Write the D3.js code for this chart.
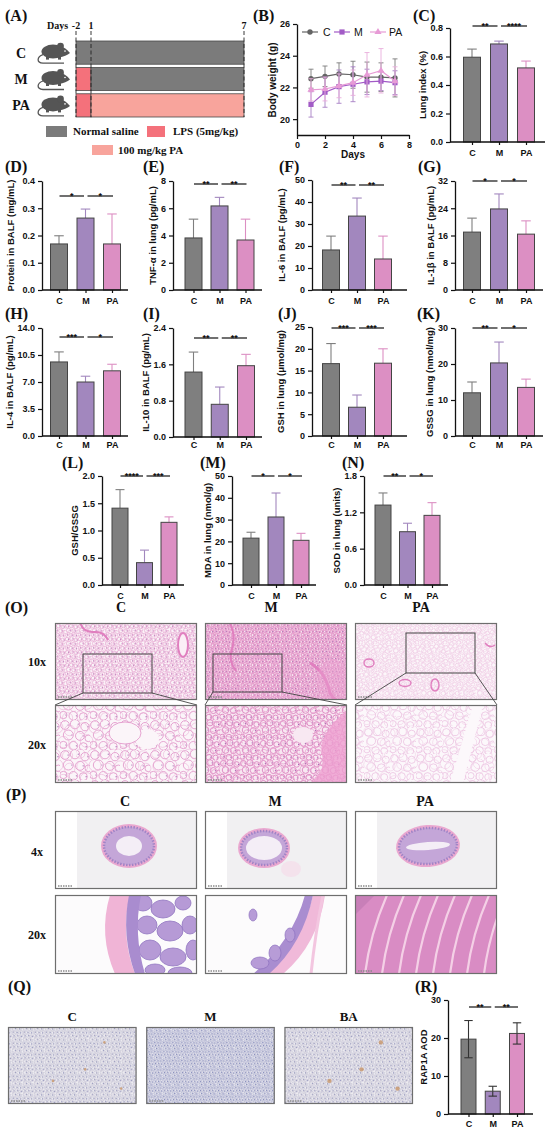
<!DOCTYPE html>
<html><head><meta charset="utf-8">
<script src="https://cdn.jsdelivr.net/npm/d3@7"></script>
<style>body{margin:0;background:#fff}svg{display:block}</style>
</head><body><svg id="fig" width="550" height="1134"></svg>
<script>
// ---------------- DATA ----------------
const groups = ["C","M","PA"];
// Panel A schedule
const schedRows = ["C","M","PA"];
const schedTicks = [-2,1,7];
const schedSegments = [
  {row:"C", from:-2, to:7, type:"saline"},
  {row:"M", from:-2, to:1, type:"lps"},
  {row:"M", from:1, to:7, type:"saline"},
  {row:"PA", from:-2, to:1, type:"lps"},
  {row:"PA", from:1, to:7, type:"pa"}
];
const schedLegend = [
  {type:"saline", label:"Normal saline"},
  {type:"lps", label:"LPS (5mg/kg)"},
  {type:"pa", label:"100 mg/kg PA"}
];
// Panel B body weight
const days = [1,2,3,4,5,6,7];
const bwC   = [22.55,22.70,22.85,22.80,22.65,22.65,22.60];
const bwCErr= [0.60,0.65,0.70,0.85,0.95,0.90,1.20];
const bwM   = [20.93,21.70,22.05,22.20,22.35,22.40,22.30];
const bwMErr= [0.80,0.95,1.05,1.10,0.80,0.60,0.75];
const bwPA  = [21.85,21.90,22.10,22.30,22.80,23.05,22.40];
const bwPAErr=[0.70,0.75,0.75,0.80,1.40,1.40,0.90];
const bwTicksX = [0,2,4,6,8];
const bwTicksY = [20,22,24,26];
// Bar panels
const lungIndex = [0.595,0.688,0.52],  lungIndexErr = [0.057,0.02,0.048];
const proteinBALF = [0.169,0.264,0.169], proteinBALFErr = [0.03,0.033,0.11];
const tnfLung = [3.82,6.17,3.67], tnfLungErr = [1.38,0.63,1.53];
const il6BALF = [18.2,33.6,14.1], il6BALFErr = [6.3,8.2,10.4];
const il1bBALF = [17.0,23.8,16.4], il1bBALFErr = [4.1,4.4,3.9];
const il4BALF = [9.6,7.0,8.45], il4BALFErr = [1.3,0.75,0.85];
const il10BALF = [1.43,0.72,1.57], il10BALFErr = [0.44,0.38,0.25];
const gshLung = [16.6,6.6,16.7], gshLungErr = [4.6,2.8,3.3];
const gssgLung = [12.0,20.3,13.5], gssgLungErr = [3.0,5.8,2.3];
const gshGssg = [1.41,0.41,1.15], gshGssgErr = [0.34,0.23,0.1];
const mdaLung = [21.5,31.2,20.5], mdaLungErr = [2.7,11.0,3.2];
const sodLung = [1.32,0.88,1.15], sodLungErr = [0.2,0.14,0.21];
const rap1a = [19.7,6.0,21.2], rap1aErr = [4.9,1.3,2.8];
const sigC = ["**","****"], sigD = ["*","*"], sigE = ["**","**"], sigF = ["**","**"], sigG = ["*","*"];
const sigH = ["***","*"], sigI = ["**","**"], sigJ = ["***","***"], sigK = ["**","*"];
const sigL = ["****","***"], sigM = ["*","*"], sigN = ["**","*"], sigR = ["**","**"];
// Histology labels
const histCols = ["C","M","PA"];
const qCols = ["C","M","BA"];

// ---------------- SETUP ----------------
const svg = d3.select("#fig");
const defs = svg.append("defs");
const serif = "'Liberation Serif','Times New Roman',serif";
const sans = "'Liberation Sans',Arial,sans-serif";
const barFill = {C:"#7f7f7f", M:"#a287be", PA:"#dc8fc3"};
const schedFill = {saline:"#7b7b7b", lps:"#f4717b", pa:"#f8a49c"};

function letter(t,x,y){
  svg.append("text").attr("x",x).attr("y",y).attr("font-family",serif)
    .attr("font-weight","bold").attr("font-size",16).attr("fill","#111").text(t);
}
function stext(t,x,y,size,anchor,font,weight){
  return svg.append("text").attr("x",x).attr("y",y).attr("font-family",font||serif)
    .attr("font-weight",weight||"bold").attr("font-size",size).attr("text-anchor",anchor||"start")
    .attr("fill","#111").text(t);
}
function styleAxis(sel){
  sel.select(".domain").attr("stroke","#111").attr("stroke-width",1.3);
  sel.selectAll(".tick line").attr("stroke","#111").attr("stroke-width",1.2);
  sel.selectAll(".tick text").attr("font-family",sans).attr("font-weight","bold")
    .attr("font-size",9).attr("fill","#111");
}

// ---------------- PANEL A ----------------
letter("(A)",5,21);
const dayX = d3.scaleLinear().domain(schedTicks).range([76,91,244]);
const rowY = d3.scaleBand().domain(schedRows).range([41,117]).paddingInner(0.12);
svg.selectAll("rect.sched").data(schedSegments).join("rect")
  .attr("x",d=>dayX(d.from)).attr("width",d=>dayX(d.to)-dayX(d.from))
  .attr("y",d=>rowY(d.row)).attr("height",rowY.bandwidth())
  .attr("fill",d=>schedFill[d.type]).attr("stroke","#4a4a4a").attr("stroke-width",0.8);
schedTicks.forEach(t=>{
  svg.append("line").attr("x1",dayX(t)).attr("x2",dayX(t)).attr("y1",31).attr("y2",117)
    .attr("stroke","#222").attr("stroke-width",0.9).attr("stroke-dasharray","4,2.5");
  stext(String(t),dayX(t),29,10,"middle");
});
stext("Days",47,29,10,"start");
schedRows.forEach(r=>{
  const cy = rowY(r)+rowY.bandwidth()/2;
  stext(r,21,cy+5,14,"middle");
  const m = svg.append("g").attr("transform",`translate(37,${cy-10})`).attr("fill","#555");
  m.append("ellipse").attr("cx",16).attr("cy",9).attr("rx",11.5).attr("ry",7);
  m.append("path").attr("d","M22,3 Q29,5 33,10.5 Q29,13.5 22,15 Z");
  m.append("circle").attr("cx",23.5).attr("cy",3.5).attr("r",3.4);
  m.append("circle").attr("cx",28).attr("cy",8.5).attr("r",0.8).attr("fill","#fff");
  m.append("rect").attr("x",9).attr("y",14).attr("width",3).attr("height",3);
  m.append("rect").attr("x",21).attr("y",14).attr("width",3).attr("height",3);
  m.append("path").attr("d","M6,12 C0,14 -1,20 6,20.5 L27,20.5").attr("fill","none")
    .attr("stroke","#555").attr("stroke-width",1.3);
});
const legPos = {saline:[46,126,21,11,73,135], lps:[147,126,18,11,173,135], pa:[92,145,21,10,118,154]};
schedLegend.forEach(l=>{
  const p = legPos[l.type];
  svg.append("rect").attr("x",p[0]).attr("y",p[1]).attr("width",p[2]).attr("height",p[3]).attr("fill",schedFill[l.type]);
  stext(l.label,p[4],p[5],11,"start");
});

// ---------------- PANEL B ----------------
letter("(B)",253,21);
const xB = d3.scaleLinear().domain([0,8]).range([297,409]);
const yB = d3.scaleLinear().domain([19,26]).range([135,24]);
styleAxis(svg.append("g").attr("transform","translate(0,135)")
  .call(d3.axisBottom(xB).tickValues(bwTicksX).tickSize(4).tickSizeOuter(0).tickFormat(d3.format("d"))));
styleAxis(svg.append("g").attr("transform","translate(297,0)")
  .call(d3.axisLeft(yB).tickValues(bwTicksY).tickSize(4).tickSizeOuter(0).tickFormat(d3.format("d"))));
stext("Days",353,158,10,"middle",sans);
stext("Body weight (g)",0,0,10,"middle",sans).attr("transform","translate(276,80) rotate(-90)");
const bwSeries = [
  {name:"C", v:bwC, e:bwCErr, col:"#646464", ecol:"#7a7a7a", shape:"circle"},
  {name:"M", v:bwM, e:bwMErr, col:"#a25bc6", ecol:"#a77fc4", shape:"square"},
  {name:"PA", v:bwPA, e:bwPAErr, col:"#e79bd6", ecol:"#e9aedc", shape:"triangle"}
];
function marker(g,shape,x,y,col){
  if(shape==="circle") g.append("circle").attr("cx",x).attr("cy",y).attr("r",2.7).attr("fill",col);
  else if(shape==="square") g.append("rect").attr("x",x-2.6).attr("y",y-2.6).attr("width",5.2).attr("height",5.2).attr("fill",col);
  else g.append("path").attr("d",d3.symbol(d3.symbolTriangle,22)()).attr("transform",`translate(${x},${y})`).attr("fill",col);
}
bwSeries.forEach(s=>{
  const g = svg.append("g");
  days.forEach((d,i)=>{
    g.append("line").attr("x1",xB(d)).attr("x2",xB(d)).attr("y1",yB(s.v[i]-s.e[i])).attr("y2",yB(s.v[i]+s.e[i]))
      .attr("stroke",s.ecol).attr("stroke-width",0.9);
    [s.v[i]-s.e[i], s.v[i]+s.e[i]].forEach(vv=>g.append("line").attr("x1",xB(d)-2.5).attr("x2",xB(d)+2.5)
      .attr("y1",yB(vv)).attr("y2",yB(vv)).attr("stroke",s.ecol).attr("stroke-width",0.9));
  });
  g.append("path").datum(days).attr("fill","none").attr("stroke",s.col).attr("stroke-width",1.2)
    .attr("d",d3.line().x(d=>xB(d)).y((d,i)=>yB(s.v[i])));
  days.forEach((d,i)=>marker(g,s.shape,xB(d),yB(s.v[i]),s.col));
});
const bLeg = [[302,318,310,323],[334,350,342,354],[370,386,378,389]];
bwSeries.forEach((s,i)=>{
  const p = bLeg[i];
  svg.append("line").attr("x1",p[0]).attr("x2",p[1]).attr("y1",32).attr("y2",32).attr("stroke",s.col).attr("stroke-width",1.2);
  marker(svg,s.shape,p[2],32,s.col);
  stext(s.name,p[3],36,10.5,"start",sans,"normal");
});

// ---------------- BAR PANELS ----------------
const barPanels = [
  {id:"(C)", title:"Lung index (%)", v:lungIndex, e:lungIndexErr, max:0.8, ticks:[0,0.2,0.4,0.6,0.8], fmt:".1f", sig:sigC,
   L:{x0:450,x1:545,cx:[472,526],bw:17,yTop:28,y0:142,labY:156,sigY:26,titleX:428,lx:413,ly:21}},
  {id:"(D)", title:"Protein in BALF (mg/mL)", v:proteinBALF, e:proteinBALFErr, max:0.4, ticks:[0,0.1,0.2,0.3,0.4], fmt:".1f", sig:sigD,
   L:{x0:42,x1:128,cx:[59,112],bw:17,yTop:181,y0:290,labY:304,sigY:196,titleX:11,lx:5,ly:172}},
  {id:"(E)", title:"TNF-α in lung (pg/mL)", v:tnfLung, e:tnfLungErr, max:8, ticks:[0,2,4,6,8], fmt:"d", sig:sigE,
   L:{x0:173,x1:262,cx:[193.5,245.5],bw:17,yTop:181,y0:290,labY:304,sigY:184,titleX:153,lx:143,ly:172}},
  {id:"(F)", title:"IL-6 in BALF (pg/mL)", v:il6BALF, e:il6BALFErr, max:50, ticks:[0,10,20,30,40,50], fmt:"d", sig:sigF,
   L:{x0:312,x1:407,cx:[331,383],bw:17,yTop:180,y0:290,labY:304,sigY:185,titleX:282,lx:279,ly:172}},
  {id:"(G)", title:"IL-1β in BALF (pg/mL)", v:il1bBALF, e:il1bBALFErr, max:32, ticks:[0,8,16,24,32], fmt:"d", sig:sigG,
   L:{x0:455,x1:543,cx:[472,526],bw:17,yTop:181,y0:290,labY:304,sigY:181,titleX:432,lx:418,ly:172}},
  {id:"(H)", title:"IL-4 in BALF (pg/mL)", v:il4BALF, e:il4BALFErr, max:14, ticks:[0,3.5,7,10.5,14], fmt:".1f", sig:sigH,
   L:{x0:42,x1:128,cx:[59,112],bw:17,yTop:328,y0:436,labY:448,sigY:337,titleX:10,lx:5,ly:319}},
  {id:"(I)", title:"IL-10 in BALF (pg/mL)", v:il10BALF, e:il10BALFErr, max:2.4, ticks:[0,0.8,1.6,2.4], fmt:".1f", sig:sigI,
   L:{x0:173,x1:262,cx:[193.5,246],bw:17,yTop:328,y0:437,labY:448,sigY:338,titleX:153,lx:143,ly:319}},
  {id:"(J)", title:"GSH in lung (μmol/mg)", v:gshLung, e:gshLungErr, max:25, ticks:[0,5,10,15,20,25], fmt:"d", sig:sigJ,
   L:{x0:312,x1:407,cx:[331,383],bw:17,yTop:327,y0:436,labY:448,sigY:328,titleX:281,lx:278,ly:319}},
  {id:"(K)", title:"GSSG in lung (nmol/mg)", v:gssgLung, e:gssgLungErr, max:30, ticks:[0,10,20,30], fmt:"d", sig:sigK,
   L:{x0:455,x1:543,cx:[472,526],bw:17,yTop:328,y0:436,labY:448,sigY:328,titleX:430,lx:417,ly:319}},
  {id:"(L)", title:"GSH/GSSG", v:gshGssg, e:gshGssgErr, max:2, ticks:[0,0.5,1,1.5,2], fmt:".1f", sig:sigL,
   L:{x0:102,x1:184,cx:[120,169],bw:16,yTop:476,y0:585,labY:599,sigY:476,titleX:78,lx:62,ly:468}},
  {id:"(M)", title:"MDA in lung (nmol/g)", v:mdaLung, e:mdaLungErr, max:50, ticks:[0,10,20,30,40,50], fmt:"d", sig:sigM,
   L:{x0:232,x1:316,cx:[251,301],bw:16,yTop:476,y0:585,labY:599,sigY:476,titleX:208,lx:200,ly:468}},
  {id:"(N)", title:"SOD in lung (units)", v:sodLung, e:sodLungErr, max:1.8, ticks:[0,0.6,1.2,1.8], fmt:".1f", sig:sigN,
   L:{x0:364,x1:448,cx:[383,432],bw:16,yTop:476,y0:585,labY:599,sigY:476,titleX:340,lx:342,ly:468}},
  {id:"(R)", title:"RAP1A AOD", v:rap1a, e:rap1aErr, max:30, ticks:[0,10,20,30], fmt:"d", sig:sigR, both:true,
   L:{x0:448,x1:533,cx:[468.5,517],bw:15,yTop:1000,y0:1114,labY:1127,sigY:1007,titleX:428,lx:415,ly:992}}
];
function barPanel(p){
  const L = p.L;
  const y = d3.scaleLinear().domain([0,p.max]).range([L.y0,L.yTop]);
  const x = d3.scalePoint().domain(groups).range(L.cx);
  const g = svg.append("g");
  letter(p.id,L.lx,L.ly);
  groups.forEach((d,i)=>{
    const eg = g.append("g").attr("stroke",p.both?"#333":barFill[d]).attr("stroke-width",1.1);
    eg.append("line").attr("x1",x(d)).attr("x2",x(d)).attr("y1",y(p.v[i])).attr("y2",y(p.v[i]+p.e[i]));
    eg.append("line").attr("x1",x(d)-L.bw*0.28).attr("x2",x(d)+L.bw*0.28).attr("y1",y(p.v[i]+p.e[i])).attr("y2",y(p.v[i]+p.e[i]));
  });
  g.selectAll("rect.bar").data(groups).join("rect")
    .attr("x",d=>x(d)-L.bw/2).attr("width",L.bw)
    .attr("y",(d,i)=>y(p.v[i])).attr("height",(d,i)=>L.y0-y(p.v[i]))
    .attr("fill",d=>barFill[d]).attr("stroke","#444").attr("stroke-width",1);
  if(p.both){
    groups.forEach((d,i)=>{
      const eg = g.append("g").attr("stroke","#333").attr("stroke-width",1.1);
      eg.append("line").attr("x1",x(d)).attr("x2",x(d)).attr("y1",y(p.v[i])).attr("y2",y(p.v[i]-p.e[i]));
      eg.append("line").attr("x1",x(d)-L.bw*0.28).attr("x2",x(d)+L.bw*0.28).attr("y1",y(p.v[i]-p.e[i])).attr("y2",y(p.v[i]-p.e[i]));
    });
  }
  const ya = g.append("g").attr("transform",`translate(${L.x0},0)`)
    .call(d3.axisLeft(y).tickValues(p.ticks).tickSize(4).tickSizeOuter(0).tickFormat(d3.format(p.fmt)));
  styleAxis(ya);
  let maxW = 0;
  ya.selectAll(".tick text").each(function(){ maxW = Math.max(maxW, this.getComputedTextLength()); });
  const xa = g.append("g").attr("transform",`translate(0,${L.y0})`)
    .call(d3.axisBottom(x).tickSize(3).tickPadding(4));
  xa.select(".domain").remove();
  styleAxis(xa);
  xa.selectAll(".tick text").attr("dy",null).attr("y",L.labY-L.y0);
  g.append("line").attr("x1",L.x0).attr("x2",L.x1).attr("y1",L.y0).attr("y2",L.y0).attr("stroke","#111").attr("stroke-width",1.3);
  const tx = Math.min(L.titleX, L.x0 - 7 - maxW - 7);
  g.append("text").attr("transform",`translate(${tx},${(L.yTop+L.y0)/2}) rotate(-90)`)
    .attr("text-anchor","middle").attr("dominant-baseline","middle").attr("font-family",sans).attr("font-weight","bold")
    .attr("font-size",9.5).attr("fill","#111").text(p.title);
  const pairs = [[0,1,0.5,-1.5],[1,2,2,1]];
  pairs.forEach((pr,k)=>{
    const xa1 = x(groups[pr[0]])+pr[2], xa2 = x(groups[pr[1]])+pr[3];
    g.append("line").attr("x1",xa1).attr("x2",xa2).attr("y1",L.sigY).attr("y2",L.sigY).attr("stroke","#111").attr("stroke-width",1.2);
    g.append("text").attr("x",(xa1+xa2)/2).attr("y",L.sigY+3).attr("text-anchor","middle")
      .attr("font-family",sans).attr("font-weight","bold").attr("font-size",9).attr("fill","#111").text(p.sig[k]);
  });
}
barPanels.forEach(barPanel);

// ---------------- HISTOLOGY (illustrative) ----------------
const alvTile = [[3,3,2.6],[9,2.5,2.8],[15,4,2.5],[5,9,3],[12,9.5,2.7],[17,11,2],[2,15,2.2],[8,15.5,2.6],[14,16,2.4]];
function pattern(id,size,bg,stroke,sw,tile,dotCol){
  const p = defs.append("pattern").attr("id",id).attr("patternUnits","userSpaceOnUse").attr("width",size).attr("height",size);
  if(bg) p.append("rect").attr("width",size).attr("height",size).attr("fill",bg);
  const k = size/18;
  tile.forEach(c=>p.append("circle").attr("cx",c[0]*k).attr("cy",c[1]*k).attr("r",c[2]*k)
    .attr("fill","none").attr("stroke",stroke).attr("stroke-width",sw));
  if(dotCol) tile.forEach(c=>p.append("circle").attr("cx",c[0]*k+c[2]*k*0.7).attr("cy",c[1]*k).attr("r",0.6).attr("fill",dotCol));
}
pattern("lC10",13,"#fbf4f8","#e39ccb",0.6,alvTile,"#b77ab8");
pattern("lC10b",17,null,"#eab3d8",0.5,alvTile);
pattern("lM10",10,"#f7e6f0","#df88c1",0.8,alvTile,"#a866b0");
pattern("lM10b",14,null,"#e596c8",0.6,alvTile);
pattern("lP10",14,"#fcf7fa","#ebbbdc",0.5,alvTile);
pattern("lP10b",19,null,"#eec6e2",0.45,alvTile);
pattern("lC20",30,"#fbf5f9","#e08fc6",0.8,alvTile,"#9b62ad");
pattern("lC20b",38,null,"#e9b0d7",0.6,alvTile);
pattern("lM20",20,"#f8e8f2","#dd82c0",0.9,alvTile,"#9b62ad");
pattern("lM20b",27,null,"#e59ccc",0.7,alvTile);
pattern("lP20",26,"#fcf8fb","#e6b0d8",0.6,alvTile);
pattern("lP20b",33,null,"#ecc2e0",0.5,alvTile);
pattern("qC",11,"#ecebf0","#b9b6cd",0.5,alvTile,"#8d8fb8");
pattern("qCb",15,null,"#cfcbd9",0.45,alvTile);
pattern("qM",9,"#e6e6ee","#a9abcc",0.55,alvTile,"#7f86b8");
pattern("qMb",13,null,"#c2c2da",0.45,alvTile);

let clipN = 0;
function imgBox(x,y,w,h){
  const id = "clip"+(clipN++);
  defs.append("clipPath").attr("id",id).append("rect").attr("x",x).attr("y",y).attr("width",w).attr("height",h);
  const g = svg.append("g");
  const inner = g.append("g").attr("clip-path",`url(#${id})`);
  return {g, inner, done:()=>{
    g.append("rect").attr("x",x+0.5).attr("y",y+0.5).attr("width",w-1).attr("height",h-1)
      .attr("fill","none").attr("stroke","#6e6e6e").attr("stroke-width",1.2);
    g.append("line").attr("x1",x+3).attr("x2",x+17).attr("y1",y+h-3).attr("y2",y+h-3)
      .attr("stroke","#8a8a8a").attr("stroke-width",1.4).attr("stroke-dasharray","1.5,1");
  }};
}
const histX = d3.scaleBand().domain(histCols).range([55,497]).paddingInner(0.0533);
const qX = d3.scaleBand().domain(qCols).range([8,413]).paddingInner(0.07);
const rows = {o10:[623,77], o20:[705,78], p4:[811,78], p20:[895,79], q:[1027,77]};
const pat = {C:["lC10","lC10b","lC20","lC20b"], M:["lM10","lM10b","lM20","lM20b"], PA:["lP10","lP10b","lP20","lP20b"]};
const insets = {C:[28,31,69,39], M:[8,31,69,38], PA:[51,10,69,40]};

// (O)
letter("(O)",5,613);
histCols.forEach(c=>stext(c,histX(c)+histX.bandwidth()/2-5,612,14,"middle"));
stext("10x",37,666,12,"middle"); stext("20x",37,749,12,"middle");
histCols.forEach(c=>{
  const x = histX(c), w = histX.bandwidth();
  let [y,h] = rows.o10;
  let b = imgBox(x,y,w,h);
  b.inner.append("rect").attr("x",x).attr("y",y).attr("width",w).attr("height",h).attr("fill",`url(#${pat[c][0]})`);
  b.inner.append("rect").attr("x",x).attr("y",y).attr("width",w).attr("height",h).attr("fill",`url(#${pat[c][1]})`);
  const fs = b.inner.append("g").attr("fill","none").attr("stroke","#e07fbf").attr("stroke-width",2);
  if(c==="C"){
    fs.append("path").attr("d",`M${x+25},${y} q4,10 14,9 q10,-1 14,8`);
    fs.append("ellipse").attr("cx",x+128).attr("cy",y+22).attr("rx",5).attr("ry",12).attr("fill","#fbeef6");
  } else if(c==="M"){
    fs.append("path").attr("d",`M${x+25},${y} q6,14 2,26 q-4,12 4,22`);
    fs.append("path").attr("d",`M${x+105},${y+40} q15,8 20,30 q5,10 15,8`).attr("stroke-width",3);
    b.inner.append("ellipse").attr("cx",x+128).attr("cy",y+58).attr("rx",16).attr("ry",22).attr("fill","#eba2d1").attr("opacity",0.45);
  } else {
    fs.attr("stroke-width",1.4);
    fs.append("ellipse").attr("cx",x+14).attr("cy",y+40).attr("rx",5).attr("ry",4);
    fs.append("ellipse").attr("cx",x+50).attr("cy",y+60).attr("rx",6).attr("ry",3.5);
    fs.append("path").attr("d",`M${x+130},${y+20} q5,6 10,2`);
    fs.append("ellipse").attr("cx",x+80).attr("cy",y+62).attr("rx",4).attr("ry",6);
  }
  b.done();
  const ins = insets[c];
  svg.append("rect").attr("x",x+ins[0]).attr("y",y+ins[1]).attr("width",ins[2]).attr("height",ins[3])
    .attr("fill","none").attr("stroke","#444").attr("stroke-width",1);
  const y20 = rows.o20[0];
  svg.append("line").attr("x1",x+ins[0]).attr("y1",y+ins[1]+ins[3]).attr("x2",x).attr("y2",y20).attr("stroke","#444").attr("stroke-width",0.9);
  svg.append("line").attr("x1",x+ins[0]+ins[2]).attr("y1",y+ins[1]+ins[3]).attr("x2",x+w).attr("y2",y20).attr("stroke","#444").attr("stroke-width",0.9);
  [y,h] = rows.o20;
  b = imgBox(x,y,w,h);
  b.inner.append("rect").attr("x",x).attr("y",y).attr("width",w).attr("height",h).attr("fill",`url(#${pat[c][2]})`);
  b.inner.append("rect").attr("x",x).attr("y",y).attr("width",w).attr("height",h).attr("fill",`url(#${pat[c][3]})`);
  if(c==="C"){
    b.inner.append("ellipse").attr("cx",x+70).attr("cy",y+28).attr("rx",16).attr("ry",11).attr("fill","#fbf5f9");
    b.inner.append("ellipse").attr("cx",x+92).attr("cy",y+34).attr("rx",12).attr("ry",10).attr("fill","#fbf5f9");
    b.inner.append("ellipse").attr("cx",x+70).attr("cy",y+28).attr("rx",16).attr("ry",11).attr("fill","none").attr("stroke","#e08fc6").attr("stroke-width",0.8);
  } else if(c==="M"){
    b.inner.append("path").attr("d",`M${x+w},${y+5} q-30,25 -25,45 q5,20 -20,${h-45} L${x+w},${y+h} Z`).attr("fill","#ee9fd0").attr("opacity",0.8);
    b.inner.append("ellipse").attr("cx",x+98).attr("cy",y+30).attr("rx",10).attr("ry",8).attr("fill","#f8e8f2");
  } else {
    b.inner.append("path").attr("d",`M${x+95},${y+h} L${x+118},${y} L${x+128},${y} L${x+108},${y+h} Z`).attr("fill","#fcf8fb");
  }
  b.done();
});

// (P)
letter("(P)",6,800);
histCols.forEach(c=>stext(c,histX(c)+histX.bandwidth()/2-1,806,14,"middle"));
stext("4x",37,856,12,"middle"); stext("20x",37,939,12,"middle");
const p4 = {C:[74,35,28,22,13,10,0], M:[59,37,26,20,18,12,0], PA:[73,35,32,21,22,4,-4]};
histCols.forEach(c=>{
  const x = histX(c), w = histX.bandwidth();
  let [y,h] = rows.p4;
  let b = imgBox(x,y,w,h);
  b.inner.append("rect").attr("x",x).attr("y",y).attr("width",w).attr("height",h).attr("fill","#fff");
  b.inner.append("rect").attr("x",x+22).attr("y",y).attr("width",w-22).attr("height",h).attr("fill","#f1f0f2");
  const e = p4[c];
  const eg = b.inner.append("g").attr("transform",`translate(${x+e[0]},${y+e[1]}) rotate(${e[6]})`);
  if(c==="M") b.inner.append("ellipse").attr("cx",x+86).attr("cy",y+58).attr("rx",10).attr("ry",8).attr("fill","#f5dbe9").attr("opacity",0.7);
  eg.append("ellipse").attr("rx",e[2]).attr("ry",e[3]).attr("fill","#eaa8d0");
  eg.append("ellipse").attr("rx",e[2]-3).attr("ry",e[3]-3).attr("fill","#c4a6d8");
  eg.append("ellipse").attr("rx",e[4]).attr("ry",e[5]).attr("fill","#f4eef6");
  eg.append("ellipse").attr("rx",e[2]-3).attr("ry",e[3]-3).attr("fill","none").attr("stroke","#a184c6").attr("stroke-width",2.5).attr("stroke-dasharray","1.5,1.5");
  b.done();
  [y,h] = rows.p20;
  b = imgBox(x,y,w,h);
  b.inner.append("rect").attr("x",x).attr("y",y).attr("width",w).attr("height",h).attr("fill","#fcfbfc");
  if(c==="C"){
    b.inner.append("path").attr("d",`M${x+55},${y} q-12,40 5,${h} L${x+80},${y+h} q-15,-40 -5,-${h} Z`).attr("fill","#f0b4d6");
    const vg = b.inner.append("g").attr("fill","#b69ad6").attr("stroke","#9075c0").attr("stroke-width",0.8);
    [[88,8,9,8],[108,14,12,9],[128,8,8,7],[92,30,10,9],[115,36,13,10],[135,30,8,9],[95,55,11,10],[118,62,13,9],[138,55,7,10],[100,75,10,6],[125,78,12,6]]
      .forEach(v=>vg.append("ellipse").attr("cx",x+v[0]).attr("cy",y+v[1]).attr("rx",v[2]).attr("ry",v[3]));
    b.inner.append("path").attr("d",`M${x+74},${y} q-8,40 6,${h} L${x+90},${y+h} q-12,-40 -4,-${h} Z`).attr("fill","#a98ccf");
  } else if(c==="M"){
    b.inner.append("path").attr("d",`M${x+108},${y} q-10,45 -50,${h} L${x+78},${y+h} q35,-30 42,-${h} Z`).attr("fill","#f0b9d9");
    b.inner.append("path").attr("d",`M${x+100},${y} q-12,45 -52,${h} L${x+64},${y+h} q34,-30 44,-${h} Z`).attr("fill","#a98dd0");
    const vg = b.inner.append("g").attr("fill","#b79cd7").attr("stroke","#8d70bf").attr("stroke-width",0.7);
    [[55,68,9,6],[70,58,6,8],[48,20,4,6],[85,40,5,7]].forEach(v=>vg.append("ellipse").attr("cx",x+v[0]).attr("cy",y+v[1]).attr("rx",v[2]).attr("ry",v[3]));
    b.inner.append("path").attr("d",`M${x+118},${y} q-8,40 -12,${h}`).attr("stroke","#f3c6e0").attr("stroke-width",3).attr("fill","none");
  } else {
    b.inner.append("rect").attr("x",x).attr("y",y).attr("width",w).attr("height",h).attr("fill","#d98cc4");
    const sg = b.inner.append("g").attr("stroke","#f4d0e6").attr("stroke-width",2.2).attr("fill","none");
    for(let k=0;k<9;k++) sg.append("path").attr("d",`M${x+10+k*17},${y+h} q5,-40 22,-${h}`);
    b.inner.append("path").attr("d",`M${x},${y+20} L${x+20},${y} L${x},${y} Z`).attr("fill","#c87fb8");
  }
  b.done();
});

// (Q)
letter("(Q)",8,992);
qCols.forEach(c=>stext(c,qX(c)+qX.bandwidth()/2,1021,13,"middle"));
qCols.forEach((c,i)=>{
  const x = qX(c), w = qX.bandwidth();
  const [y,h] = rows.q;
  const b = imgBox(x,y,w,h);
  b.inner.append("rect").attr("x",x).attr("y",y).attr("width",w).attr("height",h).attr("fill",`url(#${c==="M"?"qM":"qC"})`);
  b.inner.append("rect").attr("x",x).attr("y",y).attr("width",w).attr("height",h).attr("fill",`url(#${c==="M"?"qMb":"qCb"})`);
  if(c!=="M"){
    const bg = b.inner.append("g").attr("fill","#c9976a").attr("opacity",0.8);
    [[0.75,0.2],[0.35,0.7],[0.6,0.55],[0.88,0.8]].forEach(d=>bg.append("circle").attr("cx",x+d[0]*w).attr("cy",y+d[1]*h).attr("r",c==="BA"?2.2:1.3));
  }
  b.done();
});
</script></body></html>
